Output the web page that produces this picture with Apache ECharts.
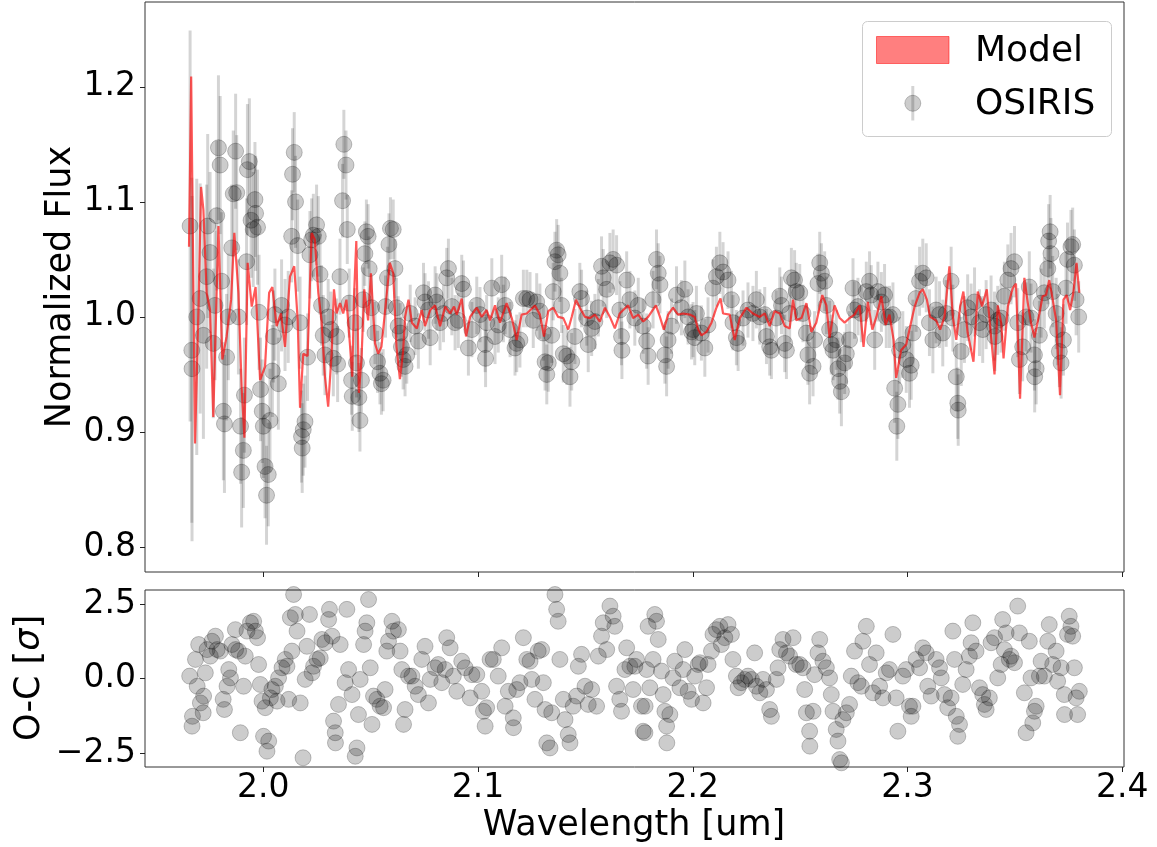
<!DOCTYPE html>
<html>
<head>
<meta charset="utf-8">
<script src="https://cdn.jsdelivr.net/npm/echarts@6/dist/echarts.min.js"></script>
<style>
html,body{margin:0;padding:0;background:#fff;}
#chart{width:1157px;height:847px;}
</style>
</head>
<body>
<div id="chart"></div>
<script>
// ---------------- DATA ----------------
const wavelengthTicks = [2.0, 2.1, 2.2, 2.3, 2.4];
const fluxTicks = [0.8, 0.9, 1.0, 1.1, 1.2];
const residualTicks = [-2.5, 0.0, 2.5];
const xLabel = 'Wavelength [um]';
const yLabelTop = 'Normalized Flux';
const yLabelBottomParts = ['O-C [', 'σ', ']'];
const legendNames = ['Model', 'OSIRIS'];

// OSIRIS spectrum: [wavelength (um), normalized flux, 1-sigma error]
const osirisPoints = [
[1.9659,1.079,0.17],[1.9667,0.971,0.15],[1.9668,0.955,0.15],[1.9690,1.000,0.12],[1.9706,1.016,0.10],
[1.9721,0.984,0.09],[1.9736,1.035,0.08],[1.9741,1.079,0.08],[1.9752,1.056,0.07],[1.9767,0.977,0.065],
[1.9775,1.010,0.065],[1.9783,1.088,0.065],[1.9791,1.147,0.063],[1.9799,1.132,0.06],[1.9806,1.031,0.06],
[1.9814,0.918,0.06],[1.9819,0.907,0.06],[1.9829,0.965,0.055],[1.9837,1.000,0.055],[1.9853,1.060,0.055],
[1.9860,1.107,0.055],[1.9871,1.144,0.05],[1.9876,1.108,0.05],[1.9884,1.000,0.05],[1.9894,0.905,0.05],
[1.9899,0.865,0.048],[1.9907,0.884,0.05],[1.9912,0.932,0.05],[1.9922,1.048,0.055],[1.9926,1.128,0.057],
[1.9935,1.135,0.055],[1.9943,1.084,0.05],[1.9953,1.076,0.05],[1.9961,1.102,0.05],[1.9964,1.090,0.05],
[1.9973,1.078,0.05],[1.9980,1.004,0.05],[1.9987,0.937,0.045],[1.9995,0.918,0.045],[2.0000,0.905,0.045],
[2.0008,0.870,0.045],[2.0015,0.845,0.043],[2.0023,0.863,0.045],[2.0031,0.910,0.045],[2.0042,0.953,0.04],
[2.0047,0.983,0.04],[2.0054,1.002,0.04],[2.0070,0.942,0.04],[2.0085,1.010,0.04],[2.0101,0.993,0.04],
[2.0116,1.000,0.04],[2.0132,1.070,0.04],[2.0136,1.124,0.04],[2.0144,1.143,0.035],[2.0150,1.100,0.04],
[2.0160,1.062,0.04],[2.0171,0.995,0.04],[2.0178,0.896,0.04],[2.0181,0.886,0.039],[2.0186,0.902,0.04],
[2.0194,0.909,0.04],[2.0206,0.965,0.038],[2.0217,1.054,0.038],[2.0225,1.067,0.036],[2.0233,1.071,0.036],
[2.0248,1.080,0.035],[2.0256,1.070,0.035],[2.0264,1.037,0.035],[2.0271,1.010,0.035],[2.0279,0.984,0.035],
[2.0287,0.967,0.035],[2.0302,1.000,0.033],[2.0315,0.989,0.033],[2.0326,0.964,0.033],[2.0341,0.983,0.033],
[2.0346,0.959,0.033],[2.0357,1.035,0.033],[2.0369,1.101,0.032],[2.0375,1.150,0.03],[2.0385,1.132,0.03],
[2.0391,1.076,0.03],[2.0400,1.012,0.03],[2.0411,0.945,0.03],[2.0414,0.931,0.03],[2.0427,0.995,0.03],
[2.0434,0.960,0.03],[2.0445,0.930,0.03],[2.0450,0.910,0.027],[2.0457,0.945,0.028],[2.0465,1.015,0.028],
[2.0473,1.055,0.028],[2.0480,1.074,0.028],[2.0488,1.070,0.028],[2.0493,1.042,0.028],[2.0504,1.008,0.028],
[2.0520,0.986,0.027],[2.0532,0.961,0.027],[2.0543,0.951,0.027],[2.0550,0.942,0.027],[2.0558,0.945,0.027],
[2.0569,1.009,0.027],[2.0578,1.034,0.027],[2.0585,1.063,0.027],[2.0592,1.077,0.027],[2.0605,1.076,0.026],
[2.0613,1.042,0.026],[2.0620,1.008,0.026],[2.0628,0.992,0.026],[2.0637,0.986,0.026],[2.0643,0.974,0.026],
[2.0651,0.963,0.026],[2.0660,0.957,0.026],[2.0668,0.967,0.025],[2.0684,1.003,0.025],[2.0707,0.992,0.025],
[2.0722,0.979,0.024],[2.0746,1.021,0.026],[2.0753,1.013,0.025],[2.0769,1.006,0.025],[2.0777,0.982,0.024],
[2.0800,1.019,0.025],[2.0808,1.013,0.025],[2.0823,0.995,0.024],[2.0839,1.003,0.025],[2.0854,1.034,0.026],
[2.0862,1.042,0.026],[2.0878,1.009,0.025],[2.0893,0.995,0.024],[2.0908,0.997,0.024],[2.0924,1.029,0.025],
[2.0932,1.024,0.025],[2.0955,0.973,0.024],[2.0971,0.989,0.024],[2.0994,1.010,0.025],[2.1009,1.002,0.024],
[2.1033,0.976,0.024],[2.1035,0.964,0.025],[2.1040,0.995,0.024],[2.1064,1.025,0.026],[2.1079,0.983,0.024],
[2.1094,0.993,0.024],[2.1110,1.028,0.026],[2.1118,1.003,0.025],[2.1126,1.010,0.025],[2.1149,0.989,0.024],
[2.1172,0.973,0.024],[2.1180,0.977,0.025],[2.1195,0.980,0.024],[2.1211,1.016,0.025],[2.1227,1.016,0.025],
[2.1242,1.015,0.024],[2.1257,0.997,0.024],[2.1273,1.013,0.025],[2.1288,1.005,0.024],[2.1304,0.986,0.024],
[2.1312,0.961,0.025],[2.1320,0.950,0.026],[2.1327,0.960,0.025],[2.1343,0.984,0.024],[2.1350,1.022,0.025],
[2.1358,1.048,0.026],[2.1366,1.058,0.027],[2.1373,1.054,0.026],[2.1381,1.038,0.025],[2.1389,1.010,0.024],
[2.1397,0.968,0.025],[2.1413,0.966,0.025],[2.1428,0.948,0.026],[2.1436,0.961,0.025],[2.1451,0.983,0.024],
[2.1474,1.022,0.025],[2.1482,1.016,0.025],[2.1506,0.999,0.024],[2.1513,0.976,0.024],[2.1529,0.990,0.024],
[2.1544,0.996,0.024],[2.1560,1.008,0.025],[2.1575,1.044,0.026],[2.1583,1.034,0.025],[2.1599,1.024,0.025],
[2.1614,1.047,0.026],[2.1629,1.050,0.026],[2.1645,1.045,0.026],[2.1660,1.006,0.025],[2.1668,0.983,0.025],
[2.1670,0.971,0.025],[2.1692,1.032,0.025],[2.1707,1.015,0.025],[2.1730,0.999,0.024],[2.1746,1.010,0.024],
[2.1769,0.992,0.024],[2.1785,0.979,0.024],[2.1792,0.966,0.025],[2.1815,1.015,0.025],[2.1831,1.050,0.026],
[2.1839,1.038,0.026],[2.1847,1.028,0.025],[2.1870,0.967,0.025],[2.1878,0.957,0.026],[2.1885,0.980,0.025],
[2.1901,0.992,0.024],[2.1924,1.019,0.025],[2.1947,1.008,0.024],[2.1963,1.024,0.025],[2.1978,1.000,0.024],
[2.1994,0.987,0.024],[2.2001,0.989,0.024],[2.2009,0.982,0.024],[2.2017,1.003,0.024],[2.2040,0.986,0.024],
[2.2056,0.973,0.025],[2.2071,0.993,0.024],[2.2094,1.025,0.025],[2.2110,1.035,0.026],[2.2126,1.047,0.027],
[2.2141,1.039,0.026],[2.2164,1.032,0.025],[2.2180,1.015,0.025],[2.2187,0.995,0.024],[2.2203,0.982,0.024],
[2.2211,0.977,0.024],[2.2234,0.999,0.024],[2.2257,1.006,0.024],[2.2280,1.003,0.024],[2.2296,1.015,0.025],
[2.2312,1.000,0.024],[2.2335,1.002,0.024],[2.2343,0.983,0.024],[2.2358,0.974,0.025],[2.2366,0.971,0.025],
[2.2389,0.999,0.024],[2.2405,1.018,0.025],[2.2413,1.010,0.025],[2.2428,0.977,0.025],[2.2436,0.971,0.025],
[2.2451,1.003,0.025],[2.2459,1.034,0.026],[2.2474,1.032,0.026],[2.2482,1.022,0.025],[2.2498,1.021,0.025],
[2.2513,1.003,0.025],[2.2529,0.986,0.025],[2.2536,0.967,0.026],[2.2544,0.951,0.027],[2.2560,0.957,0.026],
[2.2567,0.980,0.025],[2.2583,1.029,0.026],[2.2591,1.047,0.027],[2.2599,1.038,0.026],[2.2614,1.031,0.026],
[2.2622,1.010,0.025],[2.2637,0.989,0.025],[2.2645,0.976,0.026],[2.2653,0.971,0.026],[2.2668,0.980,0.026],
[2.2676,0.955,0.027],[2.2684,0.944,0.028],[2.2692,0.935,0.03],[2.2707,0.960,0.027],[2.2715,0.968,0.026],
[2.2730,0.980,0.025],[2.2746,1.025,0.026],[2.2753,1.006,0.025],[2.2769,1.009,0.025],[2.2785,1.003,0.025],
[2.2808,1.022,0.026],[2.2823,1.031,0.026],[2.2831,1.019,0.026],[2.2847,0.980,0.026],[2.2862,1.022,0.026],
[2.2878,1.013,0.026],[2.2893,1.019,0.027],[2.2901,1.000,0.027],[2.2916,1.000,0.027],[2.2932,1.002,0.028],
[2.2940,0.938,0.03],[2.2950,0.905,0.03],[2.2955,0.924,0.03],[2.2963,0.971,0.029],[2.2978,0.976,0.029],
[2.2994,0.963,0.029],[2.3009,0.951,0.03],[2.3017,0.958,0.03],[2.3025,0.986,0.029],[2.3040,1.016,0.029],
[2.3056,1.031,0.03],[2.3071,1.038,0.03],[2.3087,1.034,0.03],[2.3102,0.995,0.029],[2.3118,0.980,0.029],
[2.3133,1.006,0.029],[2.3149,1.002,0.029],[2.3164,0.986,0.029],[2.3180,1.003,0.029],[2.3203,1.031,0.03],
[2.3211,0.999,0.029],[2.3227,0.948,0.03],[2.3234,0.925,0.031],[2.3236,0.919,0.031],[2.3250,0.970,0.03],
[2.3265,0.989,0.029],[2.3280,1.008,0.029],[2.3296,1.000,0.029],[2.3312,1.013,0.03],[2.3335,0.995,0.029],
[2.3350,0.989,0.029],[2.3366,1.002,0.03],[2.3389,1.006,0.03],[2.3405,0.992,0.03],[2.3407,0.983,0.03],
[2.3420,0.997,0.03],[2.3436,0.999,0.03],[2.3451,1.018,0.03],[2.3467,1.032,0.031],[2.3482,1.042,0.031],
[2.3498,1.048,0.031],[2.3513,0.995,0.03],[2.3521,0.963,0.03],[2.3536,0.974,0.03],[2.3552,1.000,0.03],
[2.3567,1.026,0.031],[2.3575,0.999,0.03],[2.3591,0.967,0.031],[2.3592,0.948,0.031],[2.3599,0.955,0.031],
[2.3614,0.984,0.03],[2.3622,1.012,0.03],[2.3637,1.021,0.031],[2.3653,1.042,0.031],[2.3657,1.066,0.032],
[2.3664,1.074,0.032],[2.3668,1.055,0.031],[2.3676,1.022,0.031],[2.3692,1.003,0.031],[2.3699,0.989,0.031],
[2.3707,0.970,0.031],[2.3715,0.960,0.031],[2.3726,0.980,0.031],[2.3738,1.025,0.031],[2.3745,1.050,0.032],
[2.3761,1.061,0.032],[2.3769,1.063,0.032],[2.3777,1.045,0.031],[2.3785,1.015,0.031],[2.3797,1.000,0.031]
];

// Model spectrum: [wavelength (um), normalized flux]
const modelPoints = [
[1.9654,1.061],[1.9664,1.209],[1.9682,0.890],[1.9698,1.006],[1.9710,1.113],[1.9721,1.093],[1.9736,1.021],
[1.9752,1.006],[1.9767,0.913],[1.9791,1.079],[1.9809,0.963],[1.9829,0.983],[1.9850,1.015],[1.9865,1.073],
[1.9884,1.021],[1.9899,0.939],[1.9912,0.895],[1.9927,1.047],[1.9946,1.009],[1.9964,1.026],[1.9985,0.945],
[2.0008,0.957],[2.0027,1.021],[2.0042,1.026],[2.0062,0.992],[2.0082,1.003],[2.0101,0.974],[2.0124,1.035],
[2.0144,1.044],[2.0160,0.997],[2.0171,0.921],[2.0186,0.968],[2.0206,0.966],[2.0225,1.073],[2.0240,1.067],
[2.0256,1.021],[2.0271,0.997],[2.0287,0.948],[2.0302,0.922],[2.0318,0.968],[2.0329,1.024],[2.0341,1.003],
[2.0357,1.012],[2.0372,1.003],[2.0387,1.015],[2.0403,0.977],[2.0414,0.948],[2.0423,1.021],[2.0433,1.066],
[2.0445,0.934],[2.0457,0.963],[2.0470,1.024],[2.0488,0.997],[2.0501,1.038],[2.0520,0.977],[2.0535,0.968],
[2.0550,0.974],[2.0569,1.009],[2.0589,1.047],[2.0605,1.038],[2.0620,0.974],[2.0636,0.946],[2.0651,0.970],
[2.0660,1.000],[2.0676,1.015],[2.0692,0.995],[2.0715,0.990],[2.0738,1.006],[2.0753,0.992],[2.0777,1.006],
[2.0800,1.010],[2.0823,0.992],[2.0847,1.009],[2.0870,1.003],[2.0888,1.009],[2.0901,1.002],[2.0924,1.016],
[2.0944,0.983],[2.0963,1.000],[2.0994,1.008],[2.1017,1.000],[2.1040,1.006],[2.1056,0.997],[2.1079,1.010],
[2.1102,0.995],[2.1133,1.012],[2.1157,0.999],[2.1180,0.980],[2.1203,1.002],[2.1227,1.003],[2.1265,1.010],
[2.1288,1.002],[2.1307,0.983],[2.1327,1.005],[2.1350,1.008],[2.1373,1.000],[2.1397,0.999],[2.1420,0.989],
[2.1436,1.000],[2.1456,1.015],[2.1474,1.008],[2.1498,1.000],[2.1521,0.999],[2.1544,1.002],[2.1567,0.996],
[2.1591,1.008],[2.1614,1.000],[2.1637,0.990],[2.1660,1.003],[2.1676,1.006],[2.1699,1.010],[2.1722,0.999],
[2.1746,1.002],[2.1769,0.996],[2.1792,1.000],[2.1828,1.010],[2.1847,1.000],[2.1865,0.989],[2.1885,1.002],
[2.1908,1.008],[2.1931,1.002],[2.1955,1.003],[2.1986,1.002],[2.2009,1.000],[2.2025,0.989],[2.2040,0.984],
[2.2064,0.987],[2.2087,0.995],[2.2110,1.008],[2.2129,1.016],[2.2141,1.003],[2.2172,1.002],[2.2195,0.980],
[2.2219,0.999],[2.2250,1.008],[2.2280,1.003],[2.2312,1.000],[2.2335,1.003],[2.2358,0.992],[2.2381,1.005],
[2.2405,1.003],[2.2428,0.992],[2.2451,0.990],[2.2467,1.015],[2.2482,0.997],[2.2506,0.999],[2.2529,1.012],
[2.2552,0.987],[2.2575,0.995],[2.2603,1.019],[2.2622,1.010],[2.2637,0.982],[2.2660,1.010],[2.2684,0.999],
[2.2707,0.995],[2.2730,0.999],[2.2753,1.002],[2.2777,1.010],[2.2795,0.974],[2.2815,1.013],[2.2836,0.989],
[2.2855,1.000],[2.2878,1.018],[2.2898,0.993],[2.2916,1.002],[2.2935,0.980],[2.2947,0.947],[2.2970,0.971],
[2.2994,0.976],[2.3009,0.989],[2.3033,1.009],[2.3056,1.021],[2.3071,1.024],[2.3090,1.015],[2.3105,1.000],
[2.3133,0.997],[2.3152,0.989],[2.3172,1.000],[2.3195,1.044],[2.3211,1.000],[2.3227,0.980],[2.3245,1.009],
[2.3260,1.022],[2.3280,0.986],[2.3307,0.961],[2.3327,1.022],[2.3347,1.009],[2.3369,1.024],[2.3389,0.983],
[2.3405,0.950],[2.3420,1.010],[2.3436,0.995],[2.3447,0.964],[2.3467,1.009],[2.3490,1.025],[2.3505,1.029],
[2.3524,0.929],[2.3544,1.034],[2.3560,1.012],[2.3575,0.995],[2.3591,0.982],[2.3614,1.003],[2.3629,1.018],
[2.3645,1.019],[2.3660,1.032],[2.3676,1.015],[2.3692,0.997],[2.3710,0.932],[2.3726,1.015],[2.3741,1.019],
[2.3757,1.006],[2.3772,1.021],[2.3787,1.047],[2.3800,1.021]
];

// Residuals (observed - model) in units of sigma: [wavelength (um), O-C]
const residualPoints = [
[1.9657,0.08],[1.9668,-1.60],[1.9670,-1.27],[1.9684,0.64],[1.9692,-0.26],[1.9699,1.14],[1.9707,-0.82],
[1.9720,-1.15],[1.9722,-0.59],[1.9730,0.19],[1.9738,0.97],[1.9753,0.75],[1.9761,1.25],[1.9777,1.42],
[1.9785,0.97],[1.9800,0.92],[1.9813,-0.70],[1.9819,-1.04],[1.9831,-0.26],[1.9839,0.30],[1.9847,0.02],
[1.9854,1.14],[1.9870,1.64],[1.9871,0.97],[1.9885,0.92],[1.9893,-1.82],[1.9908,-0.26],[1.9916,0.75],
[1.9924,1.59],[1.9940,1.87],[1.9955,1.92],[1.9963,1.59],[1.9973,1.37],[1.9978,0.47],[1.9986,-0.20],
[1.9994,-0.76],[2.0001,-1.94],[2.0009,-0.98],[2.0017,-2.44],[2.0025,-2.10],[2.0033,-0.65],[2.0040,-0.37],
[2.0056,-0.26],[2.0064,-0.76],[2.0071,0.02],[2.0087,0.36],[2.0102,0.64],[2.0110,0.41],[2.0118,-0.70],
[2.0126,2.04],[2.0133,0.92],[2.0141,2.82],[2.0149,2.15],[2.0157,1.59],[2.0172,-0.82],[2.0185,-2.66],
[2.0195,-0.03],[2.0203,1.08],[2.0215,2.15],[2.0227,0.19],[2.0234,0.41],[2.0250,0.64],[2.0265,0.69],
[2.0273,1.31],[2.0288,1.20],[2.0304,1.98],[2.0308,2.32],[2.0320,1.42],[2.0327,-1.43],[2.0335,-1.82],
[2.0336,-2.16],[2.0350,-0.87],[2.0358,1.14],[2.0381,-0.14],[2.0389,2.32],[2.0397,0.30],[2.0413,-0.54],
[2.0428,-2.61],[2.0436,-2.33],[2.0443,-1.21],[2.0451,-0.03],[2.0467,1.14],[2.0474,1.59],[2.0482,1.87],
[2.0490,2.65],[2.0498,0.36],[2.0506,-1.54],[2.0513,-0.59],[2.0529,-0.70],[2.0544,-0.93],[2.0560,-0.98],
[2.0567,-0.37],[2.0575,0.92],[2.0583,1.25],[2.0599,1.92],[2.0606,1.59],[2.0629,1.64],[2.0637,0.92],
[2.0645,0.30],[2.0653,-1.54],[2.0660,-1.04],[2.0676,0.08],[2.0692,0.08],[2.0707,-0.26],[2.0722,-0.54],
[2.0738,0.64],[2.0753,1.08],[2.0769,-0.82],[2.0777,-0.03],[2.0800,0.36],[2.0815,0.47],[2.0831,-0.14],
[2.0847,0.30],[2.0854,1.37],[2.0870,1.03],[2.0885,0.08],[2.0901,-0.43],[2.0924,0.58],[2.0940,0.36],
[2.0963,-0.65],[2.0971,0.13],[2.0994,0.13],[2.1017,-0.43],[2.1025,-1.10],[2.1033,-1.60],[2.1040,-0.98],
[2.1056,0.64],[2.1071,0.64],[2.1094,0.08],[2.1110,1.03],[2.1126,-0.93],[2.1141,-0.43],[2.1164,-1.32],
[2.1165,-1.65],[2.1180,-0.37],[2.1195,-0.14],[2.1211,1.37],[2.1227,0.64],[2.1242,0.58],[2.1250,-0.03],
[2.1265,-0.70],[2.1280,0.92],[2.1296,0.97],[2.1304,-0.14],[2.1312,-1.04],[2.1320,-2.16],[2.1335,-2.33],
[2.1343,-1.15],[2.1358,2.82],[2.1366,2.32],[2.1373,1.92],[2.1381,0.64],[2.1397,-0.70],[2.1405,-1.38],
[2.1420,-1.88],[2.1428,-2.16],[2.1443,-0.93],[2.1459,-0.59],[2.1467,0.41],[2.1482,0.81],[2.1498,-0.26],
[2.1513,-0.87],[2.1529,-0.37],[2.1552,-0.93],[2.1560,0.75],[2.1575,1.42],[2.1583,1.87],[2.1599,0.97],
[2.1614,2.43],[2.1629,2.09],[2.1637,1.75],[2.1645,-0.26],[2.1660,-0.70],[2.1668,-1.10],[2.1684,0.30],
[2.1692,1.03],[2.1707,0.41],[2.1722,-0.37],[2.1730,0.41],[2.1738,0.64],[2.1761,-0.93],[2.1769,-1.77],
[2.1777,-1.82],[2.1778,-0.93],[2.1785,0.30],[2.1792,1.75],[2.1800,-0.31],[2.1815,0.64],[2.1823,2.15],
[2.1831,1.92],[2.1839,1.31],[2.1854,0.25],[2.1862,-0.54],[2.1870,-1.10],[2.1878,-1.60],[2.1879,-2.16],
[2.1893,-1.21],[2.1908,0.02],[2.1916,0.58],[2.1940,-0.31],[2.1955,0.30],[2.1963,0.97],[2.1978,-0.43],
[2.1994,-0.70],[2.2009,0.08],[2.2025,0.47],[2.2033,0.53],[2.2048,-0.82],[2.2064,-0.31],[2.2071,0.47],
[2.2087,0.92],[2.2094,1.48],[2.2110,1.64],[2.2126,1.75],[2.2133,1.14],[2.2149,1.37],[2.2164,1.81],
[2.2180,1.48],[2.2187,0.64],[2.2203,0.08],[2.2211,-0.31],[2.2226,-0.14],[2.2242,-0.03],[2.2257,0.08],
[2.2273,-0.03],[2.2288,0.86],[2.2296,-0.26],[2.2312,-0.48],[2.2327,-0.03],[2.2343,-0.37],[2.2358,-1.04],
[2.2366,-1.27],[2.2389,-0.03],[2.2397,0.36],[2.2405,0.97],[2.2420,1.31],[2.2436,0.86],[2.2451,0.75],
[2.2467,1.37],[2.2482,0.47],[2.2498,0.47],[2.2513,0.36],[2.2521,-0.37],[2.2529,-1.15],[2.2544,-1.77],
[2.2545,-2.27],[2.2560,-1.10],[2.2567,0.13],[2.2583,0.86],[2.2591,1.31],[2.2606,0.58],[2.2622,0.36],
[2.2637,0.02],[2.2645,-0.54],[2.2653,-1.10],[2.2668,-1.71],[2.2676,-2.10],[2.2684,-2.72],[2.2692,-2.83],
[2.2699,-1.38],[2.2715,-1.15],[2.2730,-0.87],[2.2738,0.08],[2.2753,0.92],[2.2769,-0.14],[2.2785,-0.26],
[2.2792,1.25],[2.2808,1.75],[2.2823,0.47],[2.2839,-0.48],[2.2854,0.86],[2.2870,-0.26],[2.2885,-0.65],
[2.2901,0.19],[2.2916,0.30],[2.2932,1.48],[2.2947,-0.65],[2.2955,-1.77],[2.2978,0.08],[2.2994,0.30],
[2.3009,-0.93],[2.3017,-1.27],[2.3025,-0.93],[2.3040,0.64],[2.3056,0.36],[2.3071,1.03],[2.3087,0.86],
[2.3094,-0.26],[2.3110,-0.59],[2.3133,0.64],[2.3149,0.36],[2.3157,0.02],[2.3172,-0.54],[2.3187,-0.98],
[2.3203,-0.65],[2.3211,1.59],[2.3219,0.64],[2.3227,-1.27],[2.3234,-1.94],[2.3242,-1.54],[2.3257,-0.20],
[2.3273,0.30],[2.3288,0.75],[2.3296,1.20],[2.3304,1.87],[2.3319,0.92],[2.3335,-0.31],[2.3350,-0.54],
[2.3358,-0.87],[2.3366,-1.04],[2.3381,-0.65],[2.3389,1.20],[2.3405,1.37],[2.3420,0.02],[2.3436,0.47],
[2.3443,1.98],[2.3451,0.97],[2.3459,1.53],[2.3474,0.64],[2.3482,0.75],[2.3498,0.53],[2.3513,2.43],
[2.3521,1.53],[2.3544,-0.48],[2.3552,-1.82],[2.3567,1.25],[2.3575,0.02],[2.3583,-1.49],[2.3591,-1.10],
[2.3599,-0.93],[2.3614,0.08],[2.3622,0.58],[2.3637,0.08],[2.3653,1.25],[2.3660,1.81],[2.3676,0.47],
[2.3692,0.92],[2.3699,-0.09],[2.3715,0.36],[2.3730,-0.54],[2.3731,-1.21],[2.3745,1.48],[2.3753,2.09],
[2.3761,1.75],[2.3769,1.42],[2.3777,0.36],[2.3785,-0.65],[2.3792,-1.21],[2.3800,-0.43]
];

// ---------------- CHART ----------------
const FONT = 'DejaVu Sans';
const TICK_FS = 33;
const LABEL_FS = 35;
const LEGEND_FS = 36;
const X_MIN = 1.9449, X_MAX = 2.4008;

const chart = echarts.init(document.getElementById('chart'), null, {renderer: 'canvas'});

function fmtMinus(v) {
  const s = Math.abs(v).toFixed(1);
  return v < 0 ? '\u2212' + s : s;
}

const commonX = {
  type: 'value', min: X_MIN, max: X_MAX,
  axisLine: {show: false, onZero: false},
  splitLine: {show: false},
  axisTick: {show: true, customValues: wavelengthTicks, length: 5, inside: false,
             lineStyle: {color: '#222', width: 1}},
};
const commonY = {
  type: 'value',
  axisLine: {show: false, onZero: false},
  splitLine: {show: false},
  axisTick: {show: true, length: 5, inside: false, lineStyle: {color: '#222', width: 1}},
};

const markerStyle = {color: 'rgba(0,0,0,0.2)', borderColor: 'rgba(0,0,0,0.22)', borderWidth: 1, opacity: 1};

const option = {
  animation: false,
  backgroundColor: '#ffffff',
  textStyle: {fontFamily: FONT},
  grid: [
    {left: 145, top: 2, width: 979, height: 570, show: true, borderColor: '#333', borderWidth: 1,
     backgroundColor: 'transparent', outerBoundsMode: 'none', containLabel: false},
    {left: 145, top: 590, width: 979, height: 177, show: true, borderColor: '#333', borderWidth: 1,
     backgroundColor: 'transparent', outerBoundsMode: 'none', containLabel: false}
  ],
  xAxis: [
    Object.assign({}, commonX, {gridIndex: 0, position: 'bottom',
      axisLabel: {show: false}}),
    Object.assign({}, commonX, {gridIndex: 1, position: 'bottom',
      axisLabel: {show: true, customValues: wavelengthTicks, margin: 5, fontSize: TICK_FS,
                  fontFamily: FONT, color: '#000', formatter: v => v.toFixed(1)}})
  ],
  yAxis: [
    Object.assign({}, commonY, {gridIndex: 0, position: 'left', min: 0.7783, max: 1.2737,
      axisTick: Object.assign({}, commonY.axisTick, {customValues: fluxTicks}),
      axisLabel: {show: true, customValues: fluxTicks, margin: 9, fontSize: TICK_FS,
                  fontFamily: FONT, color: '#000', formatter: v => v.toFixed(1)}}),
    Object.assign({}, commonY, {gridIndex: 1, position: 'left', min: -2.97, max: 2.97,
      axisTick: Object.assign({}, commonY.axisTick, {customValues: residualTicks}),
      axisLabel: {show: true, customValues: residualTicks, margin: 9, fontSize: TICK_FS,
                  fontFamily: FONT, color: '#000', formatter: v => fmtMinus(v)}})
  ],
  series: [
    {
      name: 'OSIRIS errors', type: 'custom', xAxisIndex: 0, yAxisIndex: 0, clip: true, z: 2,
      data: osirisPoints,
      encode: {x: 0, y: 1},
      renderItem: function (params, api) {
        const x = api.value(0), y = api.value(1), e = api.value(2);
        const p1 = api.coord([x, y - e]);
        const p2 = api.coord([x, y + e]);
        return {type: 'line', shape: {x1: p1[0], y1: p1[1], x2: p2[0], y2: p2[1]},
                style: {stroke: 'rgba(0,0,0,0.17)', lineWidth: 3}};
      },
      silent: true
    },
    {
      name: 'OSIRIS', type: 'scatter', xAxisIndex: 0, yAxisIndex: 0, z: 3,
      data: osirisPoints.map(r => [r[0], r[1]]),
      symbol: 'circle', symbolSize: 16,
      itemStyle: markerStyle,
      emphasis: {disabled: true}, silent: true
    },
    {
      name: 'Model', type: 'line', xAxisIndex: 0, yAxisIndex: 0, z: 4,
      data: modelPoints, showSymbol: false, symbol: 'none', smooth: false,
      lineStyle: {color: 'rgba(255,0,0,0.65)', width: 2.2},
      emphasis: {disabled: true}, silent: true
    },
    {
      name: 'O-C', type: 'scatter', xAxisIndex: 1, yAxisIndex: 1, z: 3,
      data: residualPoints,
      symbol: 'circle', symbolSize: 16,
      itemStyle: markerStyle,
      emphasis: {disabled: true}, silent: true
    }
  ],
  graphic: [
    // axis titles
    {type: 'text', x: 61, y: 287, rotation: Math.PI / 2, z: 10,
     style: {text: yLabelTop, font: LABEL_FS + 'px "' + FONT + '"', fill: '#000',
             textAlign: 'center', textVerticalAlign: 'middle'}},
    {type: 'text', x: 30, y: 678, rotation: Math.PI / 2, z: 10,
     style: {text: '{n|' + yLabelBottomParts[0] + '}{i|' + yLabelBottomParts[1] + '}{n|' + yLabelBottomParts[2] + '}',
             fill: '#000', align: 'center', verticalAlign: 'middle',
             rich: {
               n: {fontSize: LABEL_FS, fontFamily: FONT, fill: '#000', color: '#000'},
               i: {fontSize: LABEL_FS, fontFamily: FONT, fontStyle: 'italic', fill: '#000', color: '#000'}
             }}},
    {type: 'text', x: 634, y: 826, z: 10,
     style: {text: xLabel, font: LABEL_FS + 'px "' + FONT + '"', fill: '#000',
             textAlign: 'center', textVerticalAlign: 'middle'}},
    // legend frame
    {type: 'rect', shape: {x: 862.5, y: 21.5, width: 249, height: 115, r: 5}, z: 20,
     style: {fill: 'rgba(255,255,255,0.8)', stroke: '#cccccc', lineWidth: 1}},
    // model patch
    {type: 'rect', shape: {x: 876.5, y: 36.5, width: 72.5, height: 27}, z: 21,
     style: {fill: 'rgba(255,0,0,0.5)', stroke: 'rgba(255,0,0,0.5)', lineWidth: 1}},
    // osiris marker
    {type: 'line', shape: {x1: 912.8, y1: 86, x2: 912.8, y2: 120.5}, z: 21,
     style: {stroke: 'rgba(0,0,0,0.17)', lineWidth: 3}},
    {type: 'circle', shape: {cx: 912.8, cy: 103.3, r: 8}, z: 22,
     style: {fill: 'rgba(0,0,0,0.2)', stroke: 'rgba(0,0,0,0.22)', lineWidth: 1}},
    {type: 'text', x: 975, y: 52, z: 22,
     style: {text: legendNames[0], font: LEGEND_FS + 'px "' + FONT + '"', fill: '#000',
             textAlign: 'left', textVerticalAlign: 'middle'}},
    {type: 'text', x: 975, y: 105, z: 22,
     style: {text: legendNames[1], font: LEGEND_FS + 'px "' + FONT + '"', fill: '#000',
             textAlign: 'left', textVerticalAlign: 'middle'}}
  ]
};

chart.setOption(option);
</script>
</body>
</html>
